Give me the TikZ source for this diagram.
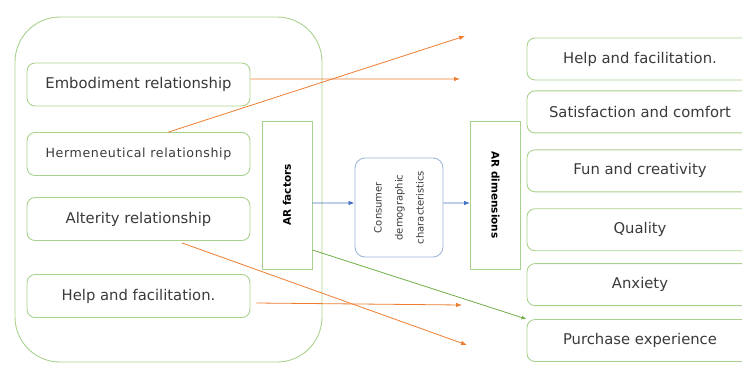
\documentclass[tikz,border=0pt]{standalone}
\usepackage{fontspec}
\setmainfont{DejaVu Sans}
\usepackage{tikz}
\usetikzlibrary{arrows.meta, positioning}
\definecolor{boxgreen}{HTML}{A9D18E}
\definecolor{lineorange}{HTML}{ED7D31}
\definecolor{lineblue}{HTML}{4472C4}
\definecolor{linegreen}{HTML}{70AD47}
\definecolor{consblue}{HTML}{9DB8D9}
\definecolor{textgray}{HTML}{3A3A3A}

\begin{document}
\begin{tikzpicture}[x=1bp, y=-1bp, node distance=10bp]
    \tikzstyle{relbox} = [rectangle, rounded corners=8bp, draw=boxgreen, line width=0.9bp,
        minimum width=223bp, minimum height=43bp, text=textgray,
        font=\fontsize{14.8bp}{17bp}\selectfont]
    \tikzstyle{dimbox} = [relbox, minimum width=226bp, minimum height=42bp]
    \tikzstyle{arbox} = [rectangle, draw=boxgreen, line width=0.9bp, rotate=90,
        minimum width=148bp, minimum height=50bp, text=black,
        font=\bfseries\fontsize{10.5bp}{12bp}\selectfont]
    \tikzstyle{orarrow} = [draw=lineorange, line width=0.8bp,
        -{Latex[length=6bp, width=4.5bp]}]
    \tikzstyle{bluarrow} = [draw=lineblue, line width=0.8bp,
        -{Latex[length=6bp, width=4.5bp]}]

    \useasboundingbox (0,0) rectangle (742,365);
    \clip (0,0) rectangle (742,365);

    % the big frame round the four relationships
    \node (frame) [draw=boxgreen, line width=0.9bp, rounded corners=45bp,
        minimum width=307bp, minimum height=345bp] at (168.5,189.5) {};

    \node (embod) [relbox] at (138.5,84.5) {Embodiment relationship};
    \node (herm) [relbox, font=\fontsize{12.6bp}{15bp}\selectfont\addfontfeatures{LetterSpace=5}]
        at (138.5,154) {Hermeneutical relationship};
    \node (alter) [relbox] at (138.5,219) {Alterity relationship};
    \node (helpL) [relbox] at (138.5,296) {Help and facilitation.};

    % rotated boxes: for rotate=90 the page east side is .south,
    % for the dimensions box (turned the other way) the page west side is .south
    \node (factors) [arbox] at (287,195) {AR factors};
    \node (consumer) [rectangle, rounded corners=10bp, draw=consblue, line width=0.9bp,
        rotate=90, minimum width=99bp, minimum height=88bp, align=center,
        text=textgray, font=\fontsize{10bp}{21bp}\selectfont]
        at (399,207.5) {Consumer\\demographic\\characteristics};
    \node (dims) [arbox, rotate=180] at (495.5,195) {AR dimensions};

    % right column
    \node (helpR) [dimbox] at (640,59) {Help and facilitation.};
    \node (satis) [dimbox, below=10bp of helpR] {Satisfaction and comfort};
    \node (fun) [dimbox, below=16bp of satis] {Fun and creativity};
    \node (quality) [dimbox, below=16bp of fun] {Quality};
    \node (anxiety) [dimbox, below=12bp of quality] {Anxiety};
    \node (purch) [dimbox, below=13bp of anxiety] {Purchase experience};

    % loose ends of the orange lines
    \coordinate (endA) at (465,36);
    \coordinate (endB) at (460,79);
    \coordinate (endC) at (462,305);
    \coordinate (endD) at (467,345);

    \draw [orarrow] ([xshift=30bp]herm.north) -- (endA);
    \draw [orarrow] ([yshift=5.5bp]embod.east) -- (endB);
    \draw [orarrow] ([xshift=6bp, yshift=-7bp]helpL.east) -- (endC);
    \draw [orarrow] ([xshift=43.5bp, yshift=-2bp]alter.south) -- (endD);

    \draw [bluarrow] ([yshift=-8bp]factors.south) -- ([yshift=4.5bp]consumer.north);
    \draw [bluarrow] ([yshift=4.5bp]consumer.south) -- ([yshift=-8bp]dims.south);
    \draw [draw=linegreen, line width=0.8bp, -{Latex[length=5bp, width=4bp]}]
        ([yshift=-55bp]factors.south) -- (purch.north west);
\end{tikzpicture}
\end{document}
